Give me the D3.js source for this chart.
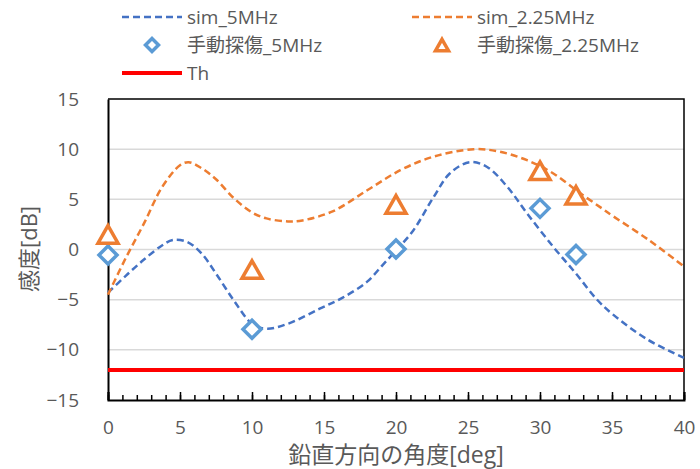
<!DOCTYPE html>
<html>
<head>
<meta charset="utf-8">
<script src="https://cdn.jsdelivr.net/npm/d3@7"></script>
<style>
  html, body { margin: 0; padding: 0; background: #fff; }
  svg text { font-family: "Open Sans", "Noto Sans CJK JP", sans-serif; fill: #595959; }
</style>
</head>
<body>
<div id="chart"></div>
<script>
// Sensitivity vs vertical angle: simulated curves and manual flaw-detection points.

// sim curves (angle [deg], sensitivity [dB])
const sim5Angles = [0, 1.25, 2.5, 3.75, 4.5, 5.5, 6.5, 7.5, 8.75, 10, 11, 12.5, 14.7, 16.3, 18, 19.1, 20, 21.2, 22.6, 23.75, 25.1, 26.3, 27.7, 29.1, 30.9, 32.5, 33.9, 35, 37.5, 40];
const sim5Values = [-4.3, -2.6, -1.0, 0.4, 0.95, 0.75, -0.4, -2.4, -5.1, -7.4, -7.9, -7.4, -5.9, -4.8, -3.2, -1.5, -0.1, 1.9, 5.2, 7.6, 8.7, 8.25, 6.3, 3.6, 0.3, -2.4, -4.9, -6.4, -9.0, -10.8];

const sim225Angles = [0, 1.25, 2.5, 3.75, 5, 5.6, 6.5, 7.5, 8.75, 10, 11, 12.5, 13.5, 15.6, 18, 20.3, 22.6, 25.4, 27.2, 29.1, 30.9, 32.8, 34.2, 35.1, 37.6, 40];
const sim225Values = [-4.5, -0.8, 2.6, 6.2, 8.4, 8.7, 8.1, 7.0, 5.1, 3.7, 3.1, 2.8, 2.9, 3.8, 5.9, 7.9, 9.25, 10.0, 9.75, 8.9, 7.6, 5.6, 4.2, 3.3, 0.9, -1.7];

// manual flaw detection (手動探傷)
const manualAngles = [0, 10, 20, 30, 32.5];
const manual5Values = [-0.55, -7.95, 0.05, 4.1, -0.5];
const manual225Values = [1.5, -2.0, 4.5, 7.85, 5.4];

// threshold
const thValue = -12;

const xTicks = [0, 5, 10, 15, 20, 25, 30, 35, 40];
const xMinorTicks = d3.range(0, 41, 1);
const yTicks = [-15, -10, -5, 0, 5, 10, 15];

const W = 700, H = 469;
const margin = { left: 108, right: 16, top: 99, bottom: 69 };

const BLUE = "#4472C4", LBLUE = "#5B9BD5", ORANGE = "#ED7D31", RED = "#FF0000";

const svg = d3.select("#chart").append("svg")
  .attr("width", W).attr("height", H)
  .attr("viewBox", `0 0 ${W} ${H}`);

const x = d3.scaleLinear().domain([0, 40]).range([margin.left, W - margin.right]);
const y = d3.scaleLinear().domain([-15, 15]).range([H - margin.bottom, margin.top]);

// gridlines
svg.append("g")
  .selectAll("line")
  .data(yTicks.filter(v => v > -15 && v < 15))
  .join("line")
  .attr("x1", x(0)).attr("x2", x(40))
  .attr("y1", d => y(d)).attr("y2", d => y(d))
  .attr("stroke", "#D9D9D9").attr("stroke-width", 1.5);

// plot frame (top / right)
svg.append("path")
  .attr("d", `M${x(0)},${y(15)}H${x(40)}V${y(-15)}`)
  .attr("fill", "none").attr("stroke", "#000").attr("stroke-width", 1.5);

// y axis: line + labels, no ticks
const yAxis = svg.append("g")
  .attr("transform", `translate(${x(0)},0)`)
  .call(d3.axisLeft(y).tickValues(yTicks).tickSize(0).tickPadding(29).tickFormat(d3.format("d")));
yAxis.select(".domain").attr("stroke", "#000").attr("stroke-width", 2);
yAxis.selectAll("text").attr("font-size", 19).attr("fill", "#595959")
  .style("font-family", "'Open Sans', sans-serif");

// x axis: minor ticks inside, major ticks + labels
const xMinor = svg.append("g")
  .attr("transform", `translate(0,${y(-15)})`)
  .call(d3.axisBottom(x).tickValues(xMinorTicks).tickSize(-5).tickFormat(""));
xMinor.select(".domain").remove();
xMinor.selectAll("line").attr("stroke", "#000").attr("stroke-width", 1.5);

const xAxis = svg.append("g")
  .attr("transform", `translate(0,${y(-15)})`)
  .call(d3.axisBottom(x).tickValues(xTicks).tickSize(-8).tickPadding(21).tickFormat(d3.format("d")));
xAxis.select(".domain").attr("stroke", "#000").attr("stroke-width", 2);
xAxis.selectAll("line").attr("stroke", "#000").attr("stroke-width", 1.5);
xAxis.selectAll("text").attr("font-size", 19).attr("fill", "#595959")
  .style("font-family", "'Open Sans', sans-serif");

// threshold line
svg.append("line")
  .attr("x1", x(0)).attr("x2", x(40))
  .attr("y1", y(thValue)).attr("y2", y(thValue))
  .attr("stroke", RED).attr("stroke-width", 4);

// sim curves
const line = d3.line()
  .x(d => x(d[0])).y(d => y(d[1]))
  .curve(d3.curveCatmullRom.alpha(0.5));

const sim5 = d3.zip(sim5Angles, sim5Values);
const sim225 = d3.zip(sim225Angles, sim225Values);

svg.append("path").datum(sim5)
  .attr("d", line).attr("fill", "none")
  .attr("stroke", BLUE).attr("stroke-width", 2.5).attr("stroke-dasharray", "7,4");

svg.append("path").datum(sim225)
  .attr("d", line).attr("fill", "none")
  .attr("stroke", ORANGE).attr("stroke-width", 2.5).attr("stroke-dasharray", "7,4");

// markers
function diamond(r) { return `M0,${-r}L${r},0L0,${r}L${-r},0Z`; }
function triangle(s) {
  const h = s * 0.88;
  return `M0,${-h / 2}L${s / 2},${h / 2}L${-s / 2},${h / 2}Z`;
}

svg.append("g").selectAll("path")
  .data(d3.zip(manualAngles, manual5Values))
  .join("path")
  .attr("transform", d => `translate(${x(d[0])},${y(d[1])})`)
  .attr("d", diamond(9))
  .attr("fill", "#fff").attr("stroke", LBLUE).attr("stroke-width", 3.5)
  .attr("stroke-linejoin", "miter");

svg.append("g").selectAll("path")
  .data(d3.zip(manualAngles, manual225Values))
  .join("path")
  .attr("transform", d => `translate(${x(d[0])},${y(d[1])})`)
  .attr("d", triangle(20))
  .attr("fill", "#fff").attr("stroke", ORANGE).attr("stroke-width", 3.5)
  .attr("stroke-linejoin", "miter");

// axis titles
svg.append("text")
  .attr("x", 396).attr("y", 463)
  .attr("text-anchor", "middle")
  .attr("font-size", 23)
  .text("鉛直方向の角度[deg]");

svg.append("text")
  .attr("transform", "translate(37,249) rotate(-90)")
  .attr("text-anchor", "middle")
  .attr("font-size", 22)
  .text("感度[dB]");

// legend
const legend = svg.append("g");
const legendItems = [
  { label: "sim_5MHz", kind: "dash", color: BLUE, lx: 122, row: 0 },
  { label: "sim_2.25MHz", kind: "dash", color: ORANGE, lx: 412, row: 0 },
  { label: "手動探傷_5MHz", kind: "diamond", color: LBLUE, lx: 122, row: 1 },
  { label: "手動探傷_2.25MHz", kind: "triangle", color: ORANGE, lx: 412, row: 1 },
  { label: "Th", kind: "solid", color: RED, lx: 122, row: 2 }
];
legendItems.forEach(it => {
  const cy = 17 + it.row * 28;
  if (it.kind === "dash" || it.kind === "solid") {
    legend.append("line")
      .attr("x1", it.lx).attr("x2", it.lx + 60)
      .attr("y1", cy).attr("y2", cy)
      .attr("stroke", it.color)
      .attr("stroke-width", it.kind === "solid" ? 4 : 2.5)
      .attr("stroke-dasharray", it.kind === "dash" ? "7,4" : null);
  } else {
    legend.append("path")
      .attr("transform", `translate(${it.lx + 30},${cy})`)
      .attr("d", it.kind === "diamond" ? diamond(6.5) : triangle(13))
      .attr("fill", "#fff").attr("stroke", it.color).attr("stroke-width", 3.5);
  }
  legend.append("text")
    .attr("x", it.lx + 65).attr("y", cy)
    .attr("dy", "0.35em")
    .attr("font-size", 19)
    .text(it.label);
});
</script>
</body>
</html>
